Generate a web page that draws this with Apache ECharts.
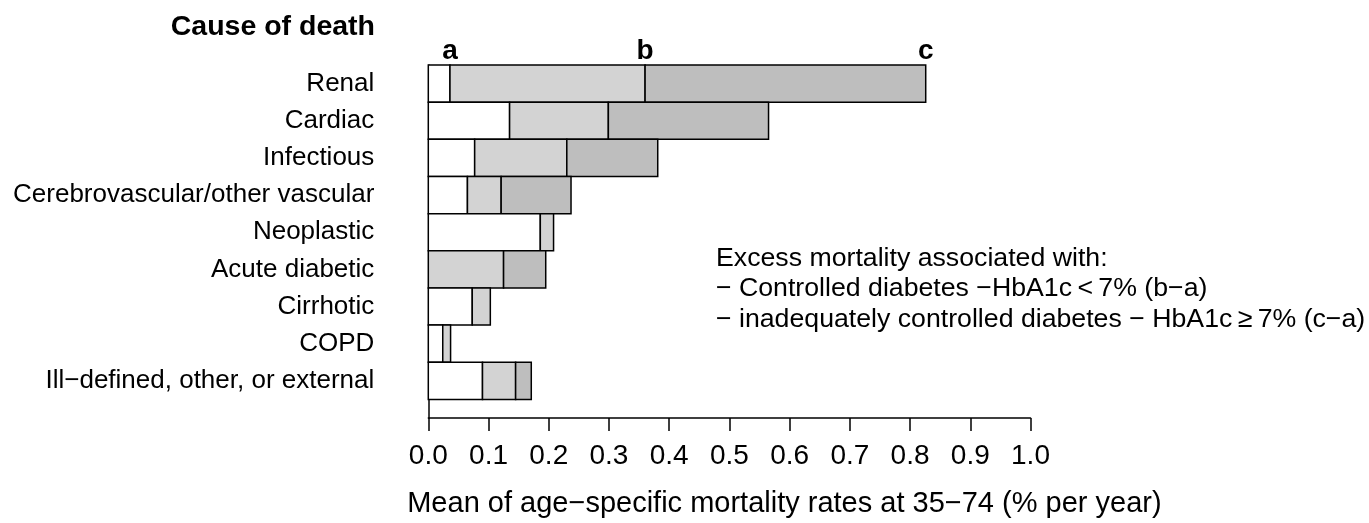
<!DOCTYPE html>
<html>
<head>
<meta charset="utf-8">
<script src="https://cdn.jsdelivr.net/npm/echarts@6/dist/echarts.min.js"></script>
<style>
  html, body { margin: 0; padding: 0; background: #ffffff; }
  #chart { width: 1369px; height: 523px; }
</style>
</head>
<body>
<div id="chart"></div>
<script>
// ---- data ----
const categories = [
  'Renal',
  'Cardiac',
  'Infectious',
  'Cerebrovascular/other vascular',
  'Neoplastic',
  'Acute diabetic',
  'Cirrhotic',
  'COPD',
  'Ill\u2212defined, other, or external'
];
// a: mortality without diabetes, b: controlled diabetes, c: inadequately controlled diabetes
const aValues = [0.036, 0.135, 0.077, 0.065, 0.186, 0.000, 0.073, 0.024, 0.090];
const bValues = [0.360, 0.299, 0.230, 0.121, 0.208, 0.125, 0.103, 0.037, 0.145];
const cValues = [0.826, 0.565, 0.381, 0.237, 0.208, 0.195, 0.103, 0.037, 0.171];
const markerLabels = ['a', 'b', 'c'];
const xTickMin = 0, xTickMax = 1.0, xTickStep = 0.1;

const axisTitle = 'Mean of age\u2212specific mortality rates at 35\u221274 (% per year)';
const yTitle = 'Cause of death';
const noteLines = [
  'Excess mortality associated with:',
  '\u2212 Controlled diabetes \u2212HbA1c\u2009<\u20097% (b\u2212a)',
  '\u2212 inadequately controlled diabetes \u2212 HbA1c\u2009\u2265\u20097% (c\u2212a)'
];

// ---- build ----
const FONT = '"Liberation Sans", Arial, sans-serif';
const n = categories.length;
const yMax = n + 0.5;
const rows = categories.map((name, i) => [i, n - i, aValues[i], bValues[i], cValues[i]]);
const renalMarks = [aValues[0], bValues[0], cValues[0]];
const markData = markerLabels.map((t, i) => [renalMarks[i], yMax, i]);
const segColors = ['#ffffff', '#d3d3d3', '#bebebe'];

const chart = echarts.init(document.getElementById('chart'), null, { renderer: 'canvas' });

chart.setOption({
  animation: false,
  backgroundColor: '#ffffff',
  title: [
    {
      text: yTitle,
      right: 994, top: 13, padding: 0,
      textStyle: { fontFamily: FONT, fontSize: 28.5, fontWeight: 'bold', color: '#000', lineHeight: 28 }
    },
    {
      text: noteLines.join('\n'),
      left: 716, top: 243, padding: 0,
      textStyle: { fontFamily: FONT, fontSize: 26.7, fontWeight: 'normal', color: '#000', lineHeight: 30.5 }
    }
  ],
  grid: { left: 428.3, right: 338.5, top: 65, bottom: 99.7, containLabel: false },
  xAxis: {
    type: 'value',
    min: xTickMin, max: xTickMax, interval: xTickStep,
    splitLine: { show: false },
    axisLine: { show: true, lineStyle: { color: '#000', width: 1.5 } },
    axisTick: { show: true, length: 13, lineStyle: { color: '#000', width: 1.5 } },
    axisLabel: {
      margin: 24, color: '#000', fontFamily: FONT, fontSize: 28,
      formatter: v => v.toFixed(1)
    },
    name: axisTitle,
    nameLocation: 'middle',
    nameGap: 71,
    nameTextStyle: { fontFamily: FONT, fontSize: 29, color: '#000', padding: [0, 0, 0, 110] }
  },
  yAxis: {
    type: 'value',
    min: 0, max: yMax, interval: 1,
    splitLine: { show: false },
    axisLine: { show: true, lineStyle: { color: '#000', width: 1.5 } },
    axisTick: { show: false },
    axisLabel: {
      margin: 54, color: '#000', fontFamily: FONT, fontSize: 26,
      padding: [3, 0, 0, 0],
      showMaxLabel: false,
      formatter: v => (Number.isInteger(v) && v >= 1 && v <= n) ? categories[n - v] : ''
    }
  },
  series: [
    {
      type: 'custom',
      data: rows,
      encode: { x: [2, 3, 4], y: 1 },
      renderItem: function (params, api) {
        const yv = api.value(1);
        const a = api.value(2), b = api.value(3), c = api.value(4);
        const h = api.size([0, 1])[1];
        const segs = [[0, a], [a, b], [b, c]];
        const children = [];
        segs.forEach((s, k) => {
          if (s[1] > s[0]) {
            const p0 = api.coord([s[0], yv]);
            const p1 = api.coord([s[1], yv]);
            children.push({
              type: 'rect',
              shape: { x: p0[0], y: p0[1] - h / 2, width: p1[0] - p0[0], height: h },
              style: { fill: segColors[k], stroke: '#000', lineWidth: 1.5 }
            });
          }
        });
        return { type: 'group', children: children };
      }
    },
    {
      type: 'custom',
      data: markData,
      encode: { x: 0, y: 1 },
      renderItem: function (params, api) {
        const p = api.coord([api.value(0), api.value(1)]);
        return {
          type: 'text',
          style: {
            text: markerLabels[api.value(2)],
            x: p[0], y: p[1],
            align: 'center', verticalAlign: 'bottom',
            fontFamily: FONT, fontSize: 28, fontWeight: 'bold', fill: '#000'
          }
        };
      }
    }
  ]
});
</script>
</body>
</html>
